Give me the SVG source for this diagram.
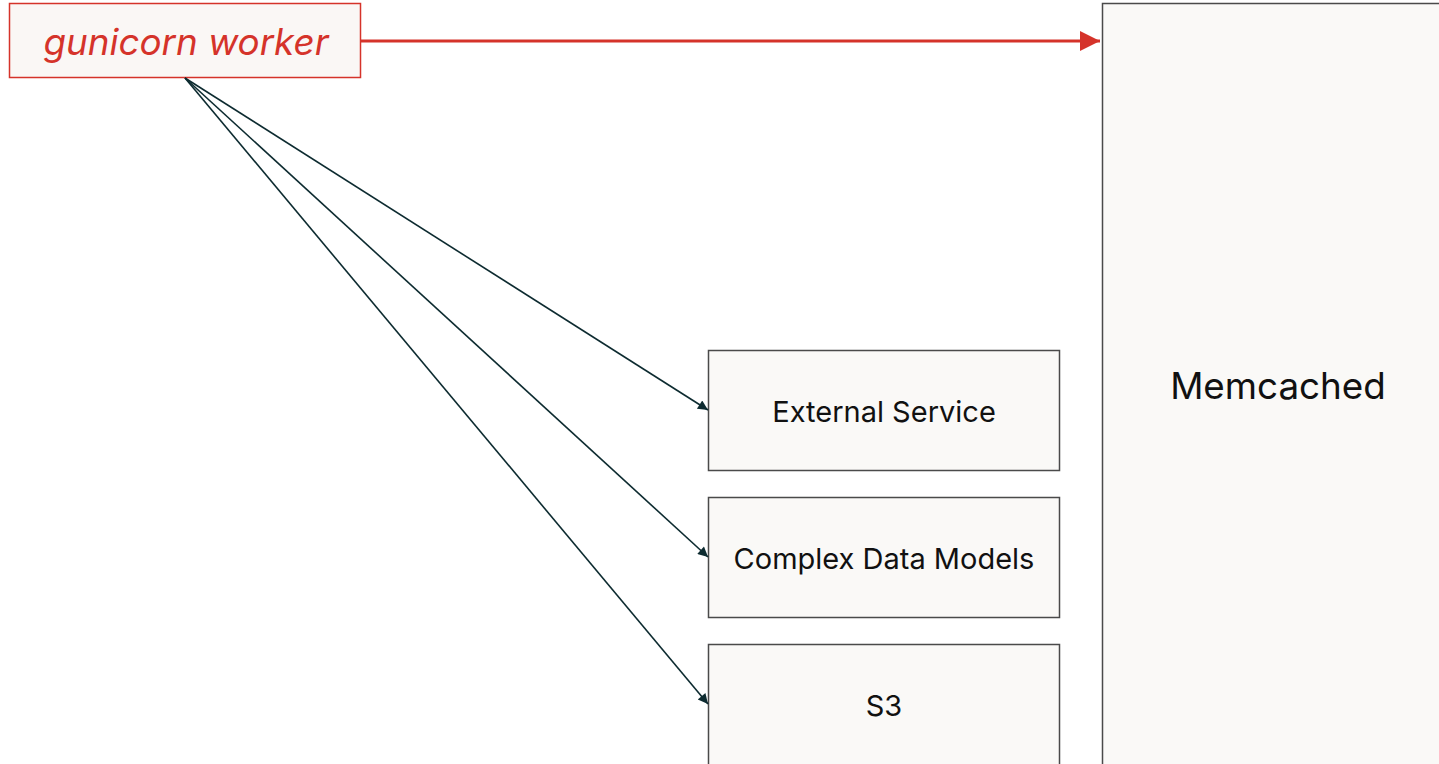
<svg xmlns="http://www.w3.org/2000/svg" width="1439" height="764" viewBox="0 0 1439 764">
<style>
.box{fill:#faf9f7;stroke:#4a4a4a;stroke-width:1.5}
.lbl{font-family:Inter,"Liberation Sans",sans-serif;fill:#111;text-anchor:middle;dominant-baseline:central}
.dark{stroke:#0d2b30;stroke-width:1.6;fill:none}
</style>
<defs>
<marker id="ad" viewBox="0 0 10 10" refX="10" refY="5" markerWidth="12" markerHeight="10" markerUnits="userSpaceOnUse" orient="auto"><path d="M0,0 L10,5 L0,10 Z" fill="#0d2b30"/></marker>
<marker id="ar" viewBox="0 0 10 10" refX="10" refY="5" markerWidth="26" markerHeight="20" markerUnits="userSpaceOnUse" orient="auto"><path d="M0,0 L10,5 L0,10 Z" fill="#d5332a"/></marker>
</defs>
<rect width="1439" height="764" fill="#ffffff"/>
<g id="memcached">
<rect class="box" x="1102.5" y="3.5" width="340" height="770"/>
<text class="lbl" x="1278" y="385" font-size="36.8">Memcached</text>
</g>
<g id="external-service">
<rect class="box" x="708.5" y="350.5" width="351" height="120"/>
<text class="lbl" x="884" y="411" font-size="29">External Service</text>
</g>
<g id="complex-data-models">
<rect class="box" x="708.5" y="497.5" width="351" height="120"/>
<text class="lbl" x="884" y="558" font-size="29">Complex Data Models</text>
</g>
<g id="s3">
<rect class="box" x="708.5" y="644.5" width="351" height="130"/>
<text class="lbl" x="884" y="705" font-size="29">S3</text>
</g>
<g id="gunicorn-worker">
<rect x="9.5" y="3.5" width="351" height="74" fill="#faf7f5" stroke="#d5332a" stroke-width="1.5"/>
<text class="lbl" x="186" y="41" font-size="36.8" font-style="italic" style="fill:#d5332a">gunicorn worker</text>
</g>
<g id="connectors">
<line x1="361" y1="41" x2="1100" y2="41" stroke="#d5332a" stroke-width="3" marker-end="url(#ar)"/>
<line class="dark" x1="185" y1="78" x2="708" y2="410" marker-end="url(#ad)"/>
<line class="dark" x1="185" y1="78" x2="708" y2="557" marker-end="url(#ad)"/>
<line class="dark" x1="185" y1="78" x2="708" y2="704" marker-end="url(#ad)"/>
</g>
</svg>
